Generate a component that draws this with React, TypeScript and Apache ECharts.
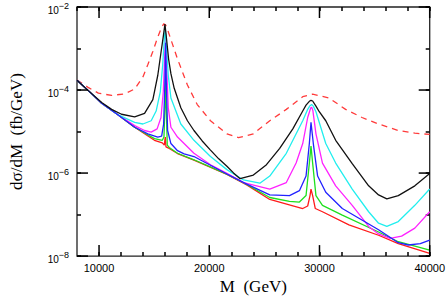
import React, { useEffect, useRef } from "react";
import * as echarts from "echarts";

// Tick positions
const xMajorTicks = [10000, 20000, 30000, 40000];
const xMinorTicks = [12000, 14000, 16000, 18000, 22000, 24000, 26000, 28000, 32000, 34000, 36000, 38000];
const yMajorTicks = [1e-8, 1e-6, 1e-4, 1e-2];
const yMinorTicks = [1e-7, 1e-5, 1e-3];

// Series: [M (GeV), dsigma/dM (fb/GeV)]
const redDashed = [
  [8000, 1.73e-4], [9050, 1.14e-4], [9940, 8.41e-5], [11140, 7.41e-5], [12340, 8.11e-5], [13230, 1.06e-4],
  [13980, 2.07e-4], [14430, 4.11e-4], [14880, 8.46e-4], [15270, 1.71e-3], [15620, 2.99e-3], [15860, 3.91e-3],
  [16040, 3.71e-3], [16220, 2.83e-3], [16670, 1.26e-3], [17120, 5.59e-4], [18020, 1.32e-4], [18910, 4.47e-5],
  [20110, 1.82e-5], [21600, 8.83e-6], [22650, 7.11e-6], [24000, 8.83e-6], [25490, 1.82e-5], [26990, 3.42e-5],
  [28480, 6.9e-5], [29380, 7.97e-5], [30870, 6.42e-5], [32370, 3.42e-5], [33860, 2.18e-5], [35360, 1.52e-5],
  [37150, 1.06e-5], [38650, 9.15e-6], [40000, 8.52e-6],
];

const black = [
  [8000, 1.73e-4], [9050, 9.54e-5], [10240, 4.99e-5], [11140, 3.42e-5], [12040, 2.61e-5], [13230, 2.26e-5],
  [14130, 2.75e-5], [14880, 5.87e-5], [15030, 9.2e-5], [15330, 2.27e-4], [15620, 8.01e-4], [15830, 1.97e-3],
  [15980, 3.85e-3], [16130, 1.65e-3], [16310, 5.59e-4], [16520, 2.48e-4], [16820, 1.1e-4], [17420, 3.74e-5],
  [18020, 1.82e-5], [18610, 1.06e-5], [19360, 5.94e-6], [20110, 3.58e-6], [20860, 2.2e-6], [21600, 1.46e-6],
  [22200, 1.01e-6], [22800, 7.33e-7], [24000, 8.94e-7], [25190, 1.59e-6], [26390, 3.92e-6], [27580, 1.16e-5],
  [28480, 3.12e-5], [28780, 4.32e-5], [29080, 5.35e-5], [29230, 5.66e-5], [29380, 5.45e-5], [29680, 4.1e-5],
  [29980, 3.0e-5], [30570, 1.82e-5], [31470, 6.16e-6], [32970, 1.68e-6], [34460, 4.93e-7], [35360, 2.98e-7],
  [36110, 2.4e-7], [37150, 2.87e-7], [38650, 4.93e-7], [40000, 9.78e-7],
];

const cyan = [
  [8000, 1.73e-4], [9050, 9.54e-5], [10240, 4.81e-5], [11740, 2.51e-5], [13230, 1.66e-5], [13980, 1.52e-5],
  [14730, 1.82e-5], [15180, 3.12e-5], [15560, 9.2e-5], [15770, 3.89e-4], [15920, 1.65e-3], [16010, 2.93e-3],
  [16130, 9.6e-4], [16280, 2.27e-4], [16520, 6.42e-5], [17420, 1.52e-5], [18610, 6.16e-6], [20110, 2.5e-6],
  [21600, 1.21e-6], [23100, 6.82e-7], [24590, 5.7e-7], [25490, 8.47e-7], [26990, 2.99e-6], [28480, 1.82e-5],
  [28930, 3.42e-5], [29140, 4.2e-5], [29290, 4.47e-5], [29440, 4.1e-5], [29680, 3.0e-5], [30570, 5.14e-6],
  [31470, 1.74e-6], [32970, 4.12e-7], [34460, 1.17e-7], [35360, 6.2e-8], [36110, 5.18e-8], [37150, 6.79e-8],
  [38650, 1.67e-7], [40000, 4.12e-7],
];

const magenta = [
  [8000, 1.73e-4], [9050, 9.54e-5], [10240, 4.81e-5], [11740, 2.51e-5], [13230, 1.39e-5], [14130, 1.06e-5],
  [14730, 9.66e-6], [15270, 1.16e-5], [15620, 2.18e-5], [15830, 9.2e-5], [15950, 5.59e-4], [16040, 2.36e-3],
  [16130, 3.89e-4], [16280, 3.74e-5], [16520, 1.27e-5], [17120, 7.37e-6], [18610, 2.99e-6], [20110, 1.59e-6],
  [21600, 9.8e-7], [23100, 5.91e-7], [25490, 4.12e-7], [26990, 5.91e-7], [27880, 1.74e-6], [28480, 5.14e-6],
  [28930, 2.18e-5], [29200, 3.7e-5], [29290, 3.87e-5], [29400, 3.2e-5], [29680, 8.83e-6], [30270, 1.74e-6],
  [31470, 4.93e-7], [32970, 1.67e-7], [34460, 5.18e-8], [35360, 3.42e-8], [36410, 2.66e-8], [37450, 3.02e-8],
  [38650, 4.73e-8], [40000, 1.17e-7],
];

const blue = [
  [8000, 1.73e-4], [9050, 9.54e-5], [10240, 4.81e-5], [11740, 2.51e-5], [13230, 1.27e-5], [14430, 8.83e-6],
  [15330, 7.37e-6], [15680, 7.78e-6], [15860, 1.52e-5], [15980, 1.58e-4], [16040, 1.38e-3], [16100, 1.58e-4],
  [16220, 1.06e-5], [16520, 5.14e-6], [17120, 3.46e-6], [17720, 2.89e-6], [18610, 2.5e-6], [21600, 9.5e-7],
  [23400, 5.4e-7], [25490, 2.98e-7], [27280, 2.87e-7], [28180, 3.76e-7], [28780, 8.47e-7], [29080, 5.14e-6],
  [29230, 1.66e-5], [29440, 5.14e-6], [29830, 8.47e-7], [30570, 3.44e-7], [32070, 1.4e-7], [35360, 4.32e-8],
  [37150, 2.1e-8], [38050, 1.85e-8], [39150, 1.99e-8], [40000, 2.43e-8],
];

const green = [
  [8000, 1.73e-4], [9050, 9.54e-5], [10240, 4.81e-5], [11740, 2.51e-5], [13230, 1.27e-5], [15030, 6.74e-6],
  [15740, 6.16e-6], [15890, 7.37e-6], [15980, 3.74e-5], [16040, 3.89e-4], [16100, 3.74e-5], [16190, 4.7e-6],
  [16370, 4.14e-6], [17120, 3.0e-6], [18610, 2.09e-6], [21600, 9.44e-7], [23400, 5.3e-7], [25490, 2.58e-7],
  [27280, 2.08e-7], [28180, 2.0e-7], [28780, 2.87e-7], [29080, 1.74e-6], [29230, 4.45e-6], [29380, 1.74e-6],
  [29680, 2.87e-7], [30270, 1.67e-7], [32070, 9.73e-8], [35360, 3.81e-8], [37150, 2.22e-8], [40000, 1.39e-8],
];

const red = [
  [8000, 1.73e-4], [9050, 9.54e-5], [10240, 4.81e-5], [11740, 2.51e-5], [13230, 1.27e-5], [15030, 6.16e-6],
  [15740, 5.33e-6], [15920, 4.7e-6], [16010, 7.37e-6], [16070, 4.29e-6], [16370, 3.92e-6], [17120, 2.95e-6],
  [18610, 2.06e-6], [21600, 9.3e-7], [23400, 5.2e-7], [25490, 2.31e-7], [28480, 1.4e-7], [28930, 1.61e-7],
  [29140, 2.87e-7], [29230, 4.12e-7], [29380, 2.87e-7], [29620, 1.4e-7], [30270, 1.17e-7], [32670, 5.67e-8],
  [35360, 3.18e-8], [37150, 1.99e-8], [40000, 1.16e-8],
];

const X_MIN = 8000;
const X_MAX = 40000;
const Y_MIN = 1e-8;
const Y_MAX = 1e-2;

const frameColor = "#222";
const tickColor = "#000";
const labelFont = "Liberation Sans";
const titleFont = "Liberation Serif";

function yLabel(v: number) {
  const e = Math.round(Math.log10(v));
  return `{b|10}{s|\u2212${Math.abs(e)}}`;
}

export default function App() {
  const ref = useRef<HTMLDivElement>(null);
  useEffect(() => {
    document.body.style.margin = "0";
    const chart = echarts.init(ref.current!, null, { renderer: "svg" });
    const lineBase = { type: "line", showSymbol: false, symbol: "none", clip: true, animation: false };
    const tickStyle = { color: tickColor, width: 1.5 };
    const xAxisBase = {
      type: "value",
      min: X_MIN,
      max: X_MAX,
      splitLine: { show: false },
      axisLabel: { show: false },
      axisLine: { show: false, onZero: false },
    };
    const yAxisBase = {
      type: "log",
      logBase: 10,
      min: Y_MIN,
      max: Y_MAX,
      splitLine: { show: false },
      axisLabel: { show: false },
      axisLine: { show: false, onZero: false },
    };
    // tick-only axes; minor ticks via minorTick between major ticks
    chart.setOption({
      animation: false,
      backgroundColor: "#fff",
      grid: {
        left: 75,
        right: 16,
        top: 7,
        bottom: 38,
        show: true,
        borderColor: frameColor,
        borderWidth: 1.3,
        backgroundColor: "transparent",
      },
      xAxis: [
        {
          ...xAxisBase,
          position: "bottom",
          interval: 2000,
          axisTick: { show: true, inside: true, length: 4, lineStyle: tickStyle },
          axisLabel: {
            show: true,
            formatter: (v: number) => (xMajorTicks.includes(v) ? String(v) : ""),
            fontFamily: labelFont,
            fontSize: 11,
            color: "#000",
            margin: 6,
            showMinLabel: false,
          },
          name: "M  (GeV)",
          nameLocation: "middle",
          nameGap: 18,
          nameTextStyle: { fontFamily: titleFont, fontSize: 17, color: "#000", verticalAlign: "top" },
        },
        {
          ...xAxisBase,
          position: "top",
          interval: 2000,
          axisTick: { show: true, inside: true, length: 4, lineStyle: tickStyle },
        },
      ],
      yAxis: [
        {
          ...yAxisBase,
          position: "left",
          interval: 1,
          axisTick: { show: true, inside: true, length: 4, lineStyle: tickStyle },
          axisLabel: {
            show: true,
            formatter: (v: number) => (yMajorTicks.some((t) => Math.abs(Math.log10(t) - Math.log10(v)) < 1e-6) ? yLabel(v) : ""),
            margin: 8,
            rich: {
              b: { fontFamily: labelFont, fontSize: 10, color: "#000", padding: [6, 0, 0, 0] },
              s: { fontFamily: labelFont, fontSize: 9, color: "#000", padding: [0, 0, 3, 0] },
            },
          },
          name: "d\u03c3/dM  (fb/GeV)",
          nameLocation: "middle",
          nameRotate: 90,
          nameGap: 52,
          nameTextStyle: { fontFamily: titleFont, fontSize: 17, color: "#000" },
        },
        {
          ...yAxisBase,
          position: "right",
          interval: 1,
          axisTick: { show: true, inside: true, length: 4, lineStyle: tickStyle },
        },
      ],
      series: [
        { ...lineBase, name: "dashed", data: redDashed, lineStyle: { color: "#ff3b3b", width: 1.3, type: [6, 5] }, z: 2 },
        { ...lineBase, name: "red", data: red, lineStyle: { color: "#ff1a1a", width: 1.3 }, z: 3 },
        { ...lineBase, name: "green", data: green, lineStyle: { color: "#1ee01e", width: 1.3 }, z: 4 },
        { ...lineBase, name: "magenta", data: magenta, lineStyle: { color: "#ff22ff", width: 1.3 }, z: 5 },
        { ...lineBase, name: "cyan", data: cyan, lineStyle: { color: "#22eeee", width: 1.3 }, z: 6 },
        { ...lineBase, name: "blue", data: blue, lineStyle: { color: "#2222ff", width: 1.3 }, z: 7 },
        { ...lineBase, name: "black", data: black, lineStyle: { color: "#111", width: 1.3 }, z: 8 },
      ],
    });

    // long ticks at the labelled values, placed through the chart's own scales
    const toPx = (x: number, y: number) => chart.convertToPixel({ gridIndex: 0 }, [x, y]) as number[];
    const p0 = toPx(X_MIN, Y_MIN);
    const p1 = toPx(X_MAX, Y_MAX);
    const left = p0[0], bottom = p0[1], right = p1[0], top = p1[1];
    const style = { stroke: tickColor, lineWidth: 1.5 };
    const els: any[] = [];
    xMajorTicks.forEach((v) => {
      const x = toPx(v, Y_MIN)[0];
      els.push({ type: "line", z: 100, shape: { x1: x, y1: bottom, x2: x, y2: bottom - 11 }, style });
      els.push({ type: "line", z: 100, shape: { x1: x, y1: top, x2: x, y2: top + 11 }, style });
    });
    yMajorTicks.forEach((v) => {
      const y = toPx(X_MIN, v)[1];
      els.push({ type: "line", z: 100, shape: { x1: left, y1: y, x2: left + 11, y2: y }, style });
      els.push({ type: "line", z: 100, shape: { x1: right, y1: y, x2: right - 11, y2: y }, style });
    });
    chart.setOption({ graphic: { elements: els } });

    return () => chart.dispose();
  }, []);
  return <div ref={ref} style={{ width: 448, height: 300 }} />;
}
